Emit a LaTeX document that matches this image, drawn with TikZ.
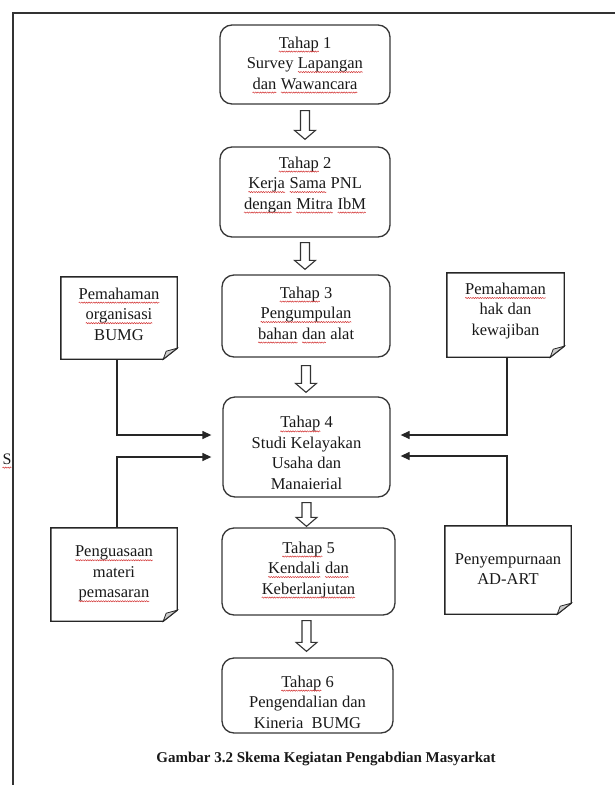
\documentclass[tikz,border=0pt]{standalone}
\usepackage{fontspec}
\setmainfont{Liberation Serif}
\usetikzlibrary{arrows.meta,calc,decorations.pathmorphing}
\definecolor{wavered}{RGB}{210,50,50}
\definecolor{boxline}{RGB}{55,55,55}
\definecolor{foldgray}{RGB}{205,205,205}
\newcommand\wavy[1]{\tikz[baseline=(wv.base)]{\node[inner sep=0pt, outer sep=0pt, minimum width=0pt, minimum height=0pt, draw=none, fill=none] (wv) {#1};
  \draw[wavered, line width=0.5pt, decorate, decoration={snake, amplitude=0.6pt, segment length=2.4pt}]
  ([yshift=-3.5pt]wv.base west) -- ([yshift=-3.5pt]wv.base east);}}
\newcommand\hollowdown[2]{%
  \draw[harrow] let \p1=(#1), \p2=(#2) in
  (\x1-4.5pt,\y1) -- (\x1+4.5pt,\y1) -- (\x1+4.5pt,\y2+9pt) -- (\x1+10.5pt,\y2+9pt)
  -- (\x1,\y2) -- (\x1-10.5pt,\y2+9pt) -- (\x1-4.5pt,\y2+9pt) -- cycle;}
\newcommand\drawdoc[1]{%
  \draw[docline] (#1.north west) -- (#1.north east) -- ([yshift=11pt]#1.south east)
    -- ([xshift=-14pt]#1.south east) -- (#1.south west) -- cycle;
  \draw[docline, fill=foldgray, line width=0.8pt] ([yshift=11pt]#1.south east)
    -- ([xshift=-14pt]#1.south east) -- ([xshift=-11pt,yshift=8pt]#1.south east) -- cycle;}
\tikzset{
  stagebox/.style={draw=boxline, line width=1.3pt, rounded corners=12pt, inner sep=0pt},
  stagetext/.style={align=center, font=\fontsize{16.5}{20.5}\selectfont, inner sep=0pt, text=black!90},
  docbox/.style={inner sep=0pt},
  doctext/.style={align=center, font=\fontsize{16.5}{20.5}\selectfont, inner sep=0pt, text=black!90},
  docline/.style={draw=black!85, line width=1.4pt},
  conn/.style={draw=black!85, line width=1.3pt, -{Triangle[length=9pt,width=8pt]}},
  harrow/.style={draw=black!80, line width=1.1pt, fill=white},
  frameline/.style={draw=black!80, line width=1.4pt},
}
\begin{document}
\begin{tikzpicture}[x=1pt,y=-1pt]
\useasboundingbox (0,0) rectangle (615,785);
% page frame
\draw[frameline] (615,13) -- (13,13) -- (13,785);
\node[font=\fontsize{16}{20}\selectfont, text=black!90, inner sep=0pt] (S) at (7,461) {\wavy{S}};

% stage boxes
\node[stagebox, minimum width=170, minimum height=79] (T1) at (305,64.5) {};
\node[stagebox, minimum width=170, minimum height=90] (T2) at (305,192) {};
\node[stagebox, minimum width=168, minimum height=82] (T3) at (306,316) {};
\node[stagebox, minimum width=167, minimum height=100] (T4) at (306.5,447) {};
\node[stagebox, minimum width=173, minimum height=87] (T5) at (308.5,571.5) {};
\node[stagebox, minimum width=171, minimum height=75] (T6) at (307.5,695.5) {};

\node[stagetext] (T1t) at (305,65) {\wavy{Tahap} 1\\Survey \wavy{Lapangan}\\\wavy{dan} \wavy{Wawancara}};
\node[stagetext] (T2t) at (305,185) {\wavy{Tahap} 2\\\wavy{Kerja} \wavy{Sama} PNL\\\wavy{dengan} \wavy{Mitra} \wavy{IbM}};
\node[stagetext] (T3t) at (306,315) {\wavy{Tahap} 3\\\wavy{Pengumpulan}\\\wavy{bahan} \wavy{dan} alat};
\node[stagetext] (T4t) at (306.5,453) {\wavy{Tahap} 4\\Studi Kelayakan\\Usaha dan\\Manaierial};
\node[stagetext] (T5t) at (308.5,570) {\wavy{Tahap} 5\\\wavy{Kendali} \wavy{dan}\\\wavy{Keberlanjutan}};
\node[stagetext] (T6t) at (307.5,702) {\wavy{Tahap} 6\\Pengendalian dan\\Kineria~ BUMG};

% hollow arrows
\hollowdown{[yshift=-6pt]T1.south}{[yshift=7pt]T2.north}
\hollowdown{[yshift=-5pt]T2.south}{[yshift=5pt]T3.north}
\hollowdown{[yshift=-8pt]T3.south}{[yshift=4pt]T4.north}
\hollowdown{[yshift=-5pt]T4.south}{[yshift=1pt]T5.north}
\hollowdown{[yshift=-5pt,xshift=-2pt]T5.south}{[yshift=6pt]T6.north}

% documents
\node[docbox, minimum width=116, minimum height=82] (D1) at (119,318) {};
\node[docbox, minimum width=117, minimum height=84] (D2) at (505.5,315) {};
\node[docbox, minimum width=126, minimum height=93] (D3) at (114,574.5) {};
\node[docbox, minimum width=126, minimum height=88] (D4) at (508,570) {};
\drawdoc{D1}
\drawdoc{D2}
\drawdoc{D3}
\drawdoc{D4}
\node[doctext] (D1t) at (119,314) {\wavy{Pemahaman}\\\wavy{organisasi}\\BUMG};
\node[doctext] (D2t) at (505.5,311) {\wavy{Pemahaman}\\hak dan\\kewajiban};
\node[doctext] (D3t) at (114,574) {\wavy{Penguasaan}\\materi\\\wavy{pemasaran}};
\node[doctext] (D4t) at (508,569) {Penyempurnaan\\AD-ART};

% connectors
\coordinate (lx) at (117,0);
\coordinate (rx) at (507,0);
\draw[conn] (D1.south -| lx) |- ([xshift=-11pt,yshift=12pt]T4.west);
\draw[conn] (D3.north -| lx) |- ([xshift=-11pt,yshift=-10pt]T4.west);
\draw[conn] (D2.south -| rx) |- ([xshift=10pt,yshift=12pt]T4.east);
\draw[conn] (D4.north -| rx) |- ([xshift=10pt,yshift=-9pt]T4.east);

% caption
\node[font=\fontsize{15}{18}\selectfont\bfseries, text=black!90, inner sep=0pt] (cap) at (326,759) {Gambar 3.2 Skema Kegiatan Pengabdian Masyarkat};
\end{tikzpicture}
\end{document}
